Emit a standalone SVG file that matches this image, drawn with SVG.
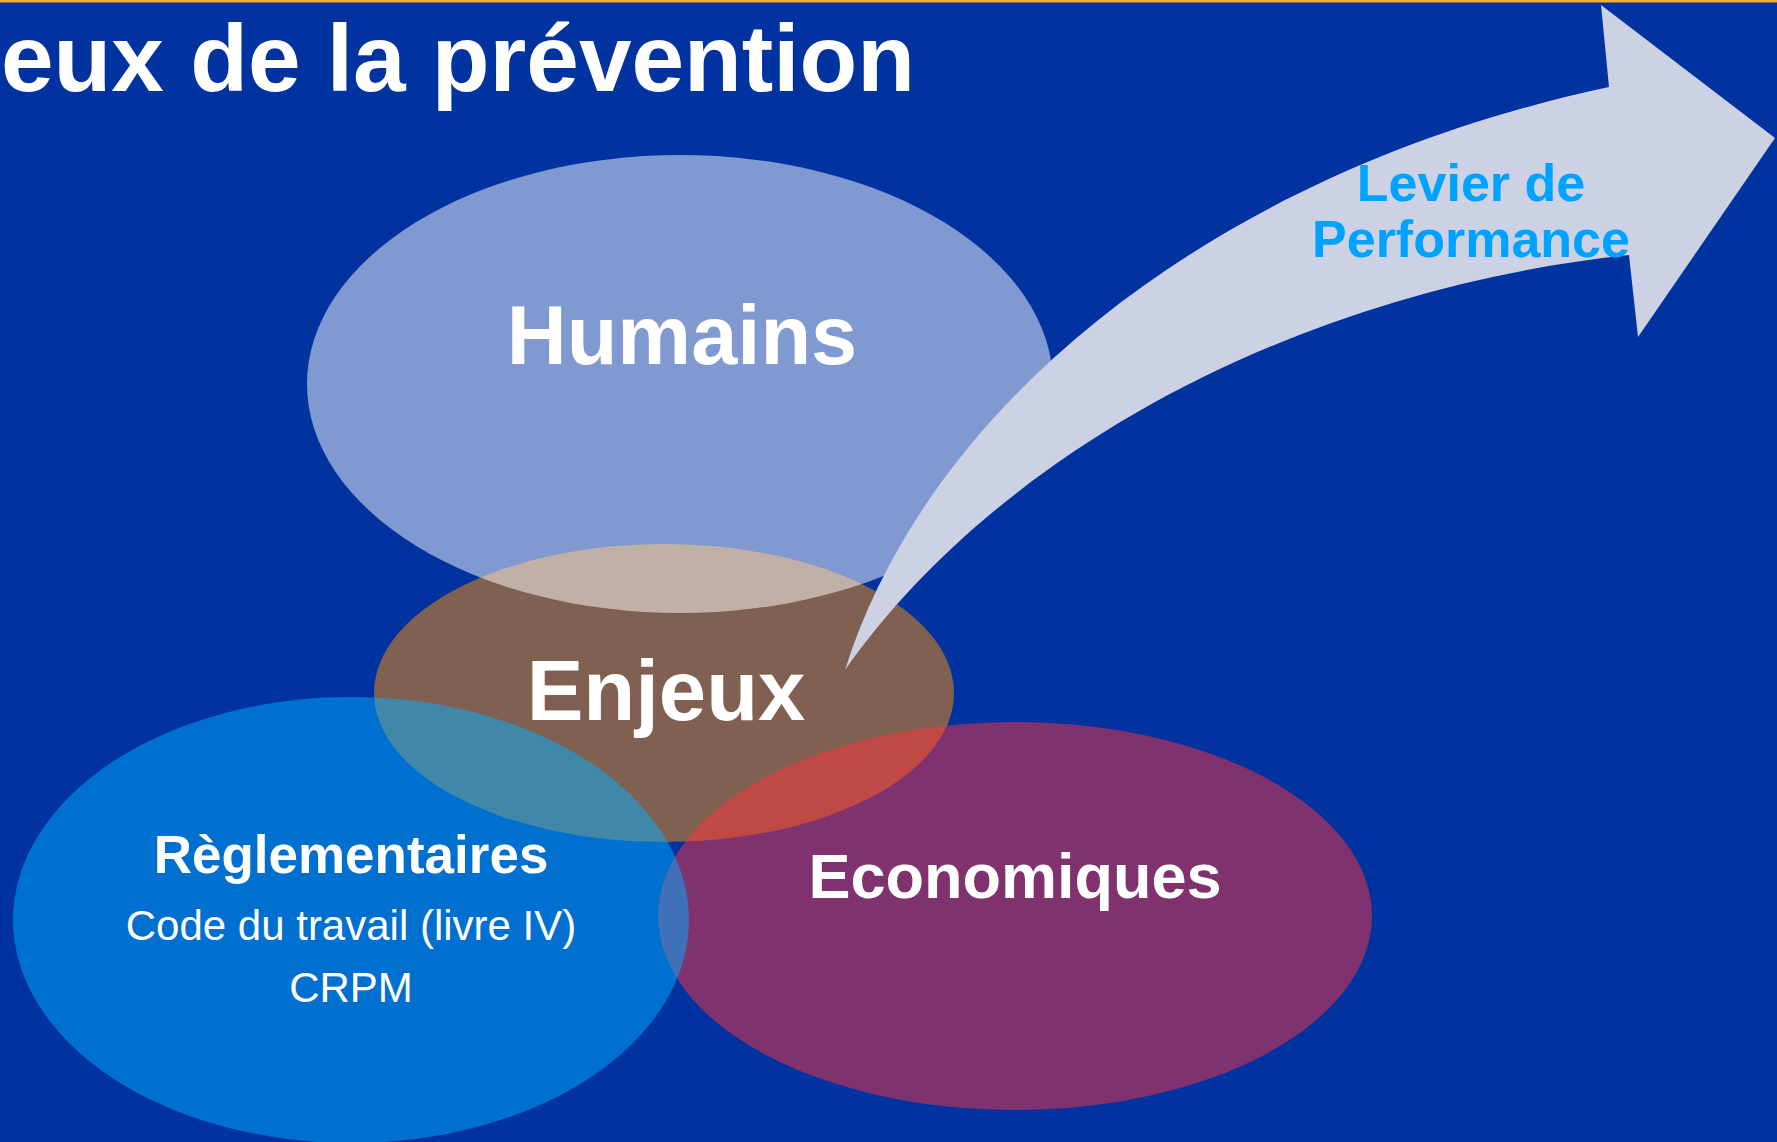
<svg xmlns="http://www.w3.org/2000/svg" width="1777" height="1142" viewBox="0 0 1777 1142">
<style>
.t{font-family:"Liberation Sans",Arial,sans-serif;fill:#fff;text-anchor:middle}
.b{font-weight:bold}
.ell{fill-opacity:0.5}
</style>
<rect x="0" y="0" width="1777" height="1142" fill="#0033A0"/>
<rect x="0" y="0" width="1777" height="2.5" fill="#F0B428"/>
<text class="t b" x="1" y="91" font-size="95" style="text-anchor:start" textLength="914" lengthAdjust="spacingAndGlyphs">eux de la prévention</text>
<g id="enjeux">
<ellipse class="ell" cx="664" cy="693" rx="290" ry="149" fill="#FF8D00"/>
</g>
<g id="economiques">
<ellipse class="ell" cx="1015" cy="916" rx="357" ry="194" fill="#FF323C"/>
</g>
<g id="reglementaires">
<ellipse class="ell" cx="351" cy="920" rx="338" ry="223" fill="#00ADFF"/>
</g>
<g id="humains">
<ellipse class="ell" cx="680" cy="384" rx="373" ry="229" fill="#FFFFFF"/>
</g>
<g id="connectors">
<path id="levier" d="M845,670 C930,400 1220,170 1609,87 L1601,5 L1775,138 L1638,337 L1629,255 C1300,290 1000,450 845,670 Z" fill="#CCD2E4"/>
</g>
<g id="labels">
<text class="t b" x="682" y="364" font-size="83">Humains</text>
<text class="t b" x="666" y="720" font-size="85">Enjeux</text>
<text class="t b" x="351" y="873" font-size="53">Règlementaires</text>
<text class="t" x="351" y="940" font-size="42">Code du travail (livre IV)</text>
<text class="t" x="351" y="1002" font-size="42">CRPM</text>
<text class="t b" x="1015" y="898" font-size="63">Economiques</text>
<text class="t b" x="1471" y="201" font-size="52" style="fill:#00A2FF">Levier de</text>
<text class="t b" x="1471" y="257" font-size="52" style="fill:#00A2FF">Performance</text>
</g>
</svg>
